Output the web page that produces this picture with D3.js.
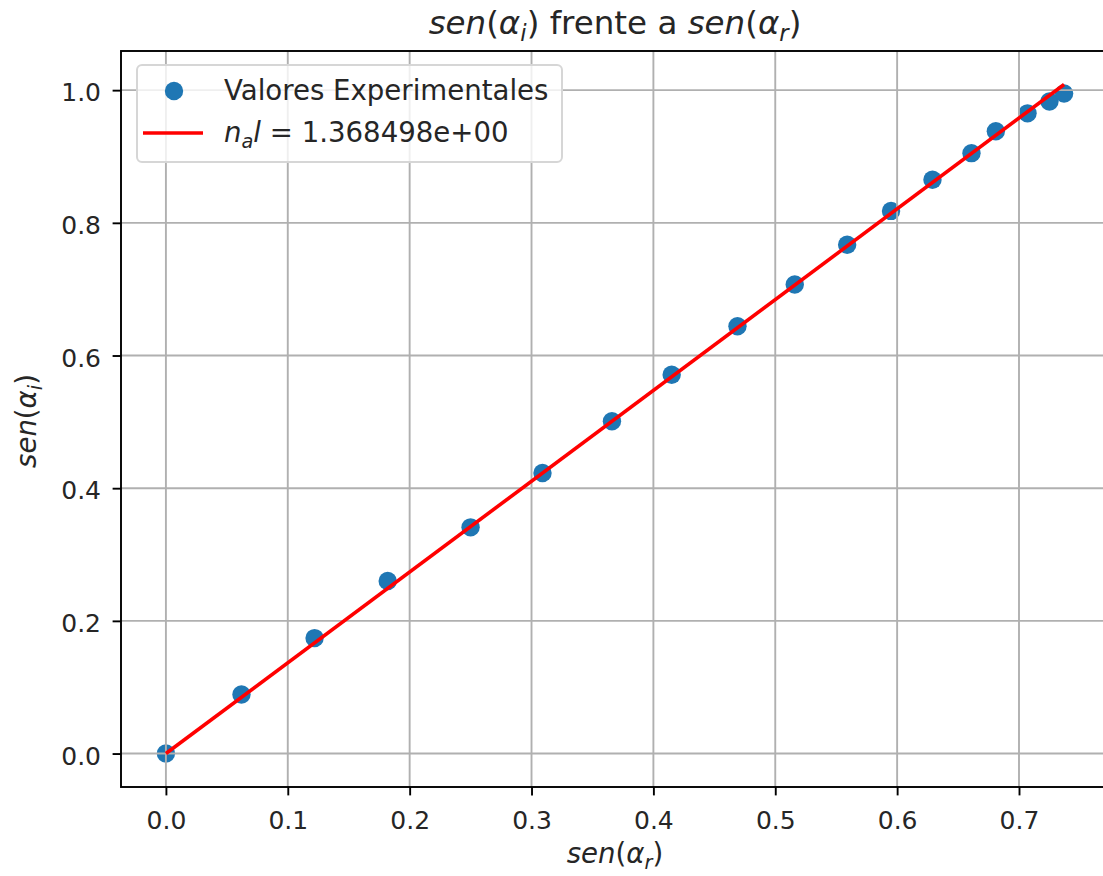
<!DOCTYPE html>
<html>
<head>
<meta charset="utf-8">
<script src="https://cdn.jsdelivr.net/npm/d3@7"></script>
<style>
  body { margin: 0; background: #fff; }
  text { font-family: "DejaVu Sans", sans-serif; fill: #262626; }
</style>
</head>
<body>
<div id="wrapper"></div>
<script>
// data
const senR = [0, 0.062, 0.122, 0.182, 0.250, 0.309, 0.366, 0.415, 0.469, 0.516,
              0.559, 0.595, 0.629, 0.661, 0.681, 0.707, 0.725, 0.737]
const senI = [0, 0.089, 0.174, 0.260, 0.341, 0.423, 0.501, 0.571, 0.644, 0.707,
              0.767, 0.818, 0.865, 0.905, 0.938, 0.965, 0.983, 0.995]
const slope = 1.368498
const xTicks = [0, 0.1, 0.2, 0.3, 0.4, 0.5, 0.6, 0.7]
const yTicks = [0, 0.2, 0.4, 0.6, 0.8, 1.0]

function drawChart() {
  //1. dimensions
  const dimensions = {
    width: 1103,
    height: 876,
    left: 121,
    right: 1109,
    top: 51,
    bottom: 787
  }
  const fs = 25       // tick labels
  const labelFs = 27.6 // axis labels and legend

  //2. canvas
  const svg = d3.select('#wrapper')
    .append('svg')
      .attr('width', dimensions.width)
      .attr('height', dimensions.height)

  //3. scales (matplotlib style 5% margins)
  const fitX = d3.extent(senR)
  const fitY = fitX.map(d => d * slope)
  const xExt = d3.extent(senR)
  const yExt = d3.extent(senI.concat(fitY))
  const xPad = (xExt[1] - xExt[0]) * 0.05
  const yPad = (yExt[1] - yExt[0]) * 0.05

  const xScale = d3.scaleLinear()
    .domain([xExt[0] - xPad, xExt[1] + xPad])
    .range([dimensions.left, dimensions.right])
  const yScale = d3.scaleLinear()
    .domain([yExt[0] - yPad, yExt[1] + yPad])
    .range([dimensions.bottom, dimensions.top])

  //4. scatter points (below grid, like matplotlib)
  svg.append('g')
    .selectAll('circle')
    .data(senR)
    .enter().append('circle')
      .attr('cx', d => xScale(d))
      .attr('cy', (d, i) => yScale(senI[i]))
      .attr('r', 9.2)
      .attr('fill', '#1f77b4')

  //5. grid
  const grid = svg.append('g')
  grid.selectAll('.vgrid')
    .data(xTicks)
    .enter().append('line')
      .attr('x1', d => xScale(d)).attr('x2', d => xScale(d))
      .attr('y1', dimensions.top).attr('y2', dimensions.bottom)
  grid.selectAll('.hgrid')
    .data(yTicks)
    .enter().append('line')
      .attr('x1', dimensions.left).attr('x2', dimensions.right)
      .attr('y1', d => yScale(d)).attr('y2', d => yScale(d))
  grid.selectAll('line')
    .attr('stroke', '#b0b0b0')
    .attr('stroke-width', 1.9)

  //6. fit line
  const line = d3.line()
    .x(d => xScale(d))
    .y(d => yScale(d * slope))
  svg.append('path')
    .attr('d', line(fitX))
    .attr('fill', 'none')
    .attr('stroke', 'red')
    .attr('stroke-width', 3.6)

  //7. axes
  const xAxis = svg.append('g')
    .attr('transform', `translate(0, ${dimensions.bottom})`)
    .call(d3.axisBottom(xScale).tickValues(xTicks).tickFormat(d3.format('.1f')).tickSize(8.4).tickSizeOuter(0))
  const yAxis = svg.append('g')
    .attr('transform', `translate(${dimensions.left}, 0)`)
    .call(d3.axisLeft(yScale).tickValues(yTicks).tickFormat(d3.format('.1f')).tickSize(8.4).tickSizeOuter(0))

  ;[xAxis, yAxis].forEach(ax => {
    ax.select('.domain').remove()
    ax.selectAll('.tick line').attr('stroke', '#000').attr('stroke-width', 1.9)
    ax.selectAll('.tick text')
      .attr('font-family', 'DejaVu Sans')
      .style('font-size', fs + 'px')
      .attr('fill', '#262626')
  })
  xAxis.selectAll('.tick text').attr('y', 42).attr('dy', 0)
  yAxis.selectAll('.tick text').attr('x', -20).attr('dy', '0.42em')

  // spines
  svg.append('rect')
    .attr('x', dimensions.left)
    .attr('y', dimensions.top)
    .attr('width', dimensions.right - dimensions.left)
    .attr('height', dimensions.bottom - dimensions.top)
    .attr('fill', 'none')
    .attr('stroke', '#000')
    .attr('stroke-width', 1.9)

  //8. math style text helper
  function mathText(g, parts, size) {
    parts.forEach(p => {
      const t = g.append('tspan')
        .text(p.t)
        .style('font-style', p.it ? 'italic' : 'normal')
        .style('font-size', (p.sub ? size * 0.7 : size) + 'px')
      if (p.sub) t.attr('dy', size * 0.22)
      if (p.back) t.attr('dy', -size * 0.22)
    })
  }
  const senParts = sub => [
    {t: 'sen', it: true},
    {t: '('},
    {t: 'α', it: true},
    {t: sub, it: true, sub: true},
    {t: ')', back: true}
  ]

  // title
  const title = svg.append('text')
    .attr('x', 615)
    .attr('y', 34)
    .attr('text-anchor', 'middle')
  mathText(title, senParts('i').concat([{t: ' frente a '}], senParts('r')), 32.5)

  // x label
  const xLabel = svg.append('text')
    .attr('x', 615)
    .attr('y', 863)
    .attr('text-anchor', 'middle')
  mathText(xLabel, senParts('r'), labelFs)

  // y label
  const yLabel = svg.append('text')
    .attr('transform', `translate(36, 421) rotate(-90)`)
    .attr('text-anchor', 'middle')
  mathText(yLabel, senParts('i'), labelFs)

  //9. legend
  const legend = svg.append('g')
  legend.append('rect')
    .attr('x', 137).attr('y', 65)
    .attr('width', 425).attr('height', 97)
    .attr('rx', 5)
    .attr('fill', '#fff').attr('fill-opacity', 0.8)
    .attr('stroke', '#d6d6d6').attr('stroke-width', 2)
  legend.append('circle')
    .attr('cx', 174).attr('cy', 91).attr('r', 9.2)
    .attr('fill', '#1f77b4')
  legend.append('line')
    .attr('x1', 143).attr('x2', 203)
    .attr('y1', 133).attr('y2', 133)
    .attr('stroke', 'red').attr('stroke-width', 3.6)
  legend.append('text')
    .attr('x', 224).attr('y', 100)
    .style('font-size', labelFs + 'px')
    .text('Valores Experimentales')
  const lbl2 = legend.append('text')
    .attr('x', 224).attr('y', 142)
  mathText(lbl2, [
    {t: 'n', it: true},
    {t: 'a', it: true, sub: true},
    {t: 'l', it: true, back: true},
    {t: ' = ' + d3.format('.6f')(slope) + 'e+00'}
  ], labelFs)
}
drawChart()
</script>
</body>
</html>
